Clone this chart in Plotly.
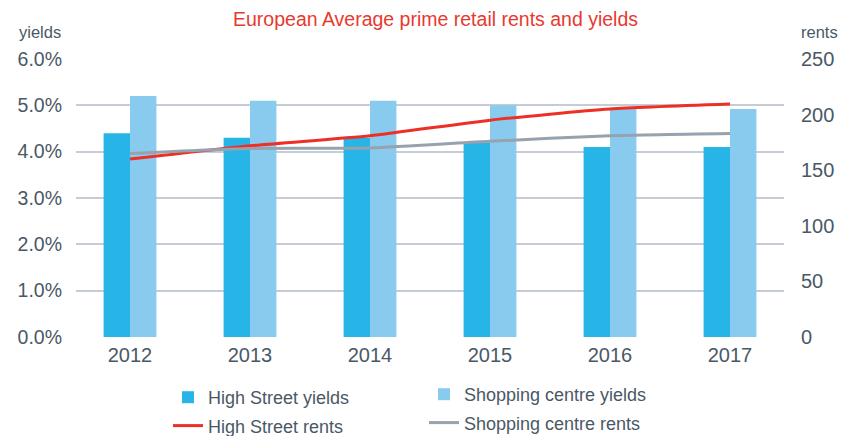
import plotly.graph_objects as go

years = ["2012", "2013", "2014", "2015", "2016", "2017"]
hs_yields = [4.4, 4.3, 4.3, 4.2, 4.1, 4.1]
sc_yields = [5.2, 5.1, 5.1, 5.0, 4.95, 4.92]
hs_rents = [160, 172, 181, 195, 205, 209.5]
sc_rents = [165, 169.5, 170, 176, 181, 183]

yield_ticks = [0, 1, 2, 3, 4, 5, 6]
rent_ticks = [0, 50, 100, 150, 200, 250]

FONT = "Liberation Sans, Arial, sans-serif"
TXT = "#4a5866"
W, H = 854, 436
ML, MR, MT, MB = 76, 70, 59, 99
PW, PH = W - ML - MR, H - MT - MB

def px_x(p):
    return (p - ML) / PW

def px_y(p):
    return (H - MB - p) / PH

fig = go.Figure()
fig.add_trace(go.Bar(x=years, y=hs_yields, name="High Street yields",
                     marker=dict(color="#27b5e8", line=dict(width=0)),
                     legend="legend", legendgroup="a"))
fig.add_trace(go.Bar(x=years, y=sc_yields, name="Shopping centre yields",
                     marker=dict(color="#89cbef", line=dict(width=0)),
                     legend="legend2", legendgroup="b"))
fig.add_trace(go.Scatter(x=years, y=hs_rents, name="High Street rents", yaxis="y2",
                         mode="lines", line=dict(color="#ee2f26", width=3, shape="spline", smoothing=0.6),
                         legend="legend", legendgroup="c"))
fig.add_trace(go.Scatter(x=years, y=sc_rents, name="Shopping centre rents", yaxis="y2",
                         mode="lines", line=dict(color="#96a2ad", width=3, shape="spline", smoothing=0.6),
                         legend="legend2", legendgroup="d"))

legend_common = dict(orientation="v", xanchor="left", yanchor="top",
                     font=dict(family=FONT, size=18, color=TXT),
                     bgcolor="rgba(0,0,0,0)", tracegroupgap=2, itemwidth=30)

fig.update_layout(
    width=W, height=H,
    margin=dict(l=ML, r=MR, t=MT, b=MB, autoexpand=False),
    paper_bgcolor="white", plot_bgcolor="white",
    barmode="group", bargap=0.56, bargroupgap=0,
    font=dict(family=FONT, color=TXT),
    showlegend=True,
    legend=dict(x=px_x(168), y=px_y(379), **legend_common),
    legend2=dict(x=px_x(424), y=px_y(376), **legend_common),
    xaxis=dict(range=[-0.45, 5.45], showgrid=False, showline=False, ticks="",
               tickfont=dict(family=FONT, size=20, color=TXT), ticklabelstandoff=4),
    yaxis=dict(range=[0, 6], tickvals=yield_ticks,
               ticktext=[f"{v:.1f}%" for v in yield_ticks],
               showgrid=True, gridcolor="#c5ccd3", gridwidth=1.5, zeroline=False,
               showline=False, ticks="", ticklabelstandoff=13,
               tickfont=dict(family=FONT, size=19.5, color=TXT)),
    yaxis2=dict(range=[0, 250], tickvals=rent_ticks, overlaying="y", side="right",
                showgrid=False, zeroline=False, showline=False, ticks="",
                ticklabelstandoff=16,
                tickfont=dict(family=FONT, size=20, color=TXT)),
    annotations=[
        dict(text="European Average prime retail rents and yields", xref="paper", yref="paper",
             x=px_x(435), y=px_y(19), xanchor="center", yanchor="middle", showarrow=False,
             font=dict(family=FONT, size=19.5, color="#e8392f")),
        dict(text="yields", xref="paper", yref="paper", x=px_x(40), y=px_y(32),
             xanchor="center", yanchor="middle", showarrow=False,
             font=dict(family=FONT, size=16.5, color=TXT)),
        dict(text="rents", xref="paper", yref="paper", x=px_x(819), y=px_y(32),
             xanchor="center", yanchor="middle", showarrow=False,
             font=dict(family=FONT, size=16.5, color=TXT)),
    ],
)

fig.write_html("out.html", config={"displayModeBar": False},
               post_script="document.body.style.margin='0px';document.body.style.overflow='hidden';")
